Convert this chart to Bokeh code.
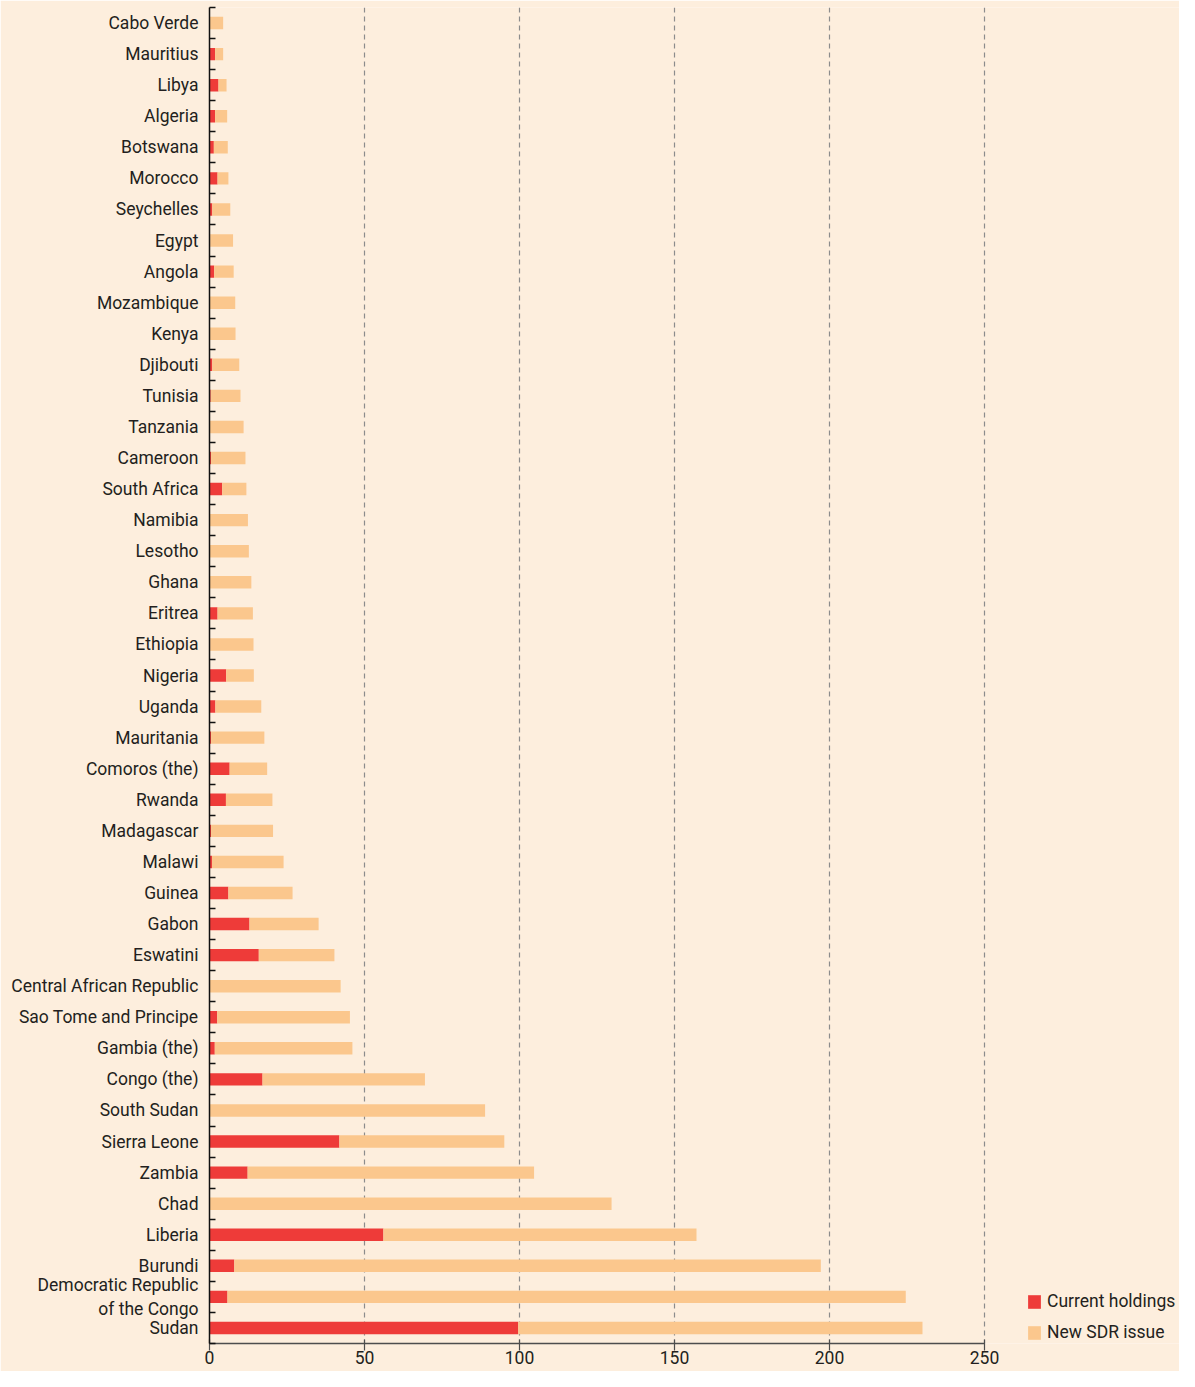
from bokeh.plotting import figure
from bokeh.models import (ColumnDataSource, FixedTicker, Range1d, Legend, LegendItem, LinearAxis, Grid)
from bokeh.embed import file_html
from bokeh.resources import INLINE

countries = ["Cabo Verde", "Mauritius", "Libya", "Algeria", "Botswana", "Morocco", "Seychelles",
             "Egypt", "Angola", "Mozambique", "Kenya", "Djibouti", "Tunisia", "Tanzania",
             "Cameroon", "South Africa", "Namibia", "Lesotho", "Ghana", "Eritrea", "Ethiopia",
             "Nigeria", "Uganda", "Mauritania", "Comoros (the)", "Rwanda", "Madagascar",
             "Malawi", "Guinea", "Gabon", "Eswatini", "Central African Republic",
             "Sao Tome and Principe", "Gambia (the)", "Congo (the)", "South Sudan",
             "Sierra Leone", "Zambia", "Chad", "Liberia", "Burundi",
             "Democratic Republic\nof the Congo", "Sudan"]
current_holdings = [0, 1.8, 2.9, 1.8, 1.4, 2.6, 0.9, 0.2, 1.5, 0, 0, 0.9, 0.4, 0, 0.5, 4.1,
                    0, 0, 0, 2.6, 0.2, 5.4, 1.9, 0.5, 6.5, 5.3, 0.5, 0.8, 6.1, 12.9, 15.9,
                    0, 2.5, 1.7, 17.1, 0, 41.9, 12.3, 0, 56.1, 8.0, 5.8, 99.6]
new_sdr_issue = [4.4, 2.6, 2.6, 3.9, 4.5, 3.5, 5.8, 7.4, 6.3, 8.3, 8.4, 8.7, 9.6, 11.0, 11.1,
                 7.8, 12.4, 12.7, 13.5, 11.4, 14.0, 8.9, 14.8, 17.2, 12.1, 15.0, 20.0, 23.1,
                 20.7, 22.3, 24.4, 42.3, 42.8, 44.4, 52.4, 88.9, 53.2, 92.4, 129.7, 101.0,
                 189.2, 218.8, 130.4]
x_ticks = [0, 50, 100, 150, 200, 250]
series_labels = ["Current holdings", "New SDR issue"]

BG = "#FDEEDD"
RED = "#EE3B39"
ORANGE = "#FBC78D"
FONT = "Roboto"
TXT = "#231F20"

n = len(countries)
pos = list(range(n))
src = ColumnDataSource(dict(y=pos, current=current_holdings, new=new_sdr_issue))

W, H = 1179, 1371
LEFT, TOP, BOTTOM = 209, 7, 28
frame_w = W - LEFT
x_end = frame_w / 3.1

p = figure(width=W, height=H, output_backend="svg", toolbar_location=None,
           x_range=Range1d(0, x_end), y_range=Range1d(n - 0.5, -0.5),
           x_axis_location=None, y_axis_location=None,
           min_border_left=LEFT, min_border_right=0, min_border_top=TOP, min_border_bottom=BOTTOM)
p.background_fill_color = BG
p.border_fill_color = BG
p.outline_line_color = None

rs = p.hbar_stack(["current", "new"], y="y", height=0.4, source=src,
                  fill_color=[RED, ORANGE], line_color=None)

# x axis
xaxis = LinearAxis(ticker=FixedTicker(ticks=x_ticks), bounds=(0, 250))
xaxis.axis_line_color = "#4D4D4D"
xaxis.axis_line_width = 1.5
xaxis.major_tick_line_color = "#4D4D4D"
xaxis.major_tick_line_width = 1.2
xaxis.major_tick_in = 4
xaxis.major_tick_out = 7
xaxis.minor_tick_line_color = None
xaxis.major_label_standoff = 0
xaxis.major_label_text_font = FONT
xaxis.major_label_text_font_size = "17.5px"
xaxis.major_label_text_color = TXT
p.add_layout(xaxis, "below")

# y axis
yaxis = LinearAxis(ticker=FixedTicker(ticks=pos, minor_ticks=[i + 0.5 for i in range(-1, n)]))
yaxis.major_label_overrides = {i: c for i, c in enumerate(countries)}
yaxis.axis_line_color = "#111111"
yaxis.axis_line_width = 1.5
yaxis.major_tick_in = 0
yaxis.major_tick_out = 0
yaxis.minor_tick_in = 6
yaxis.minor_tick_out = 0
yaxis.minor_tick_line_color = "#111111"
yaxis.minor_tick_line_width = 1.3
yaxis.major_label_standoff = 11
yaxis.major_label_text_font = FONT
yaxis.major_label_text_font_size = "17.5px"
yaxis.major_label_text_color = TXT
p.add_layout(yaxis, "left")

p.xgrid.visible = False
p.ygrid.visible = False
g = Grid(dimension=0, ticker=FixedTicker(ticks=x_ticks[1:]))
g.grid_line_color = "#8C8C8C"
g.grid_line_dash = "5 4"
g.grid_line_width = 1.2
p.add_layout(g)

legend = Legend(items=[LegendItem(label=series_labels[0], renderers=[rs[0]]),
                       LegendItem(label=series_labels[1], renderers=[rs[1]])],
                location=(817, 1))
legend.margin = 0
legend.padding = 0
legend.spacing = 11
legend.glyph_width = 16
legend.glyph_height = 17
legend.label_height = 16
legend.label_standoff = 5
legend.label_text_font = FONT
legend.label_text_font_size = "17.5px"
legend.label_text_color = TXT
legend.border_line_color = None
legend.background_fill_alpha = 0
p.add_layout(legend)

open("out.html", "w").write(file_html(p, INLINE))
